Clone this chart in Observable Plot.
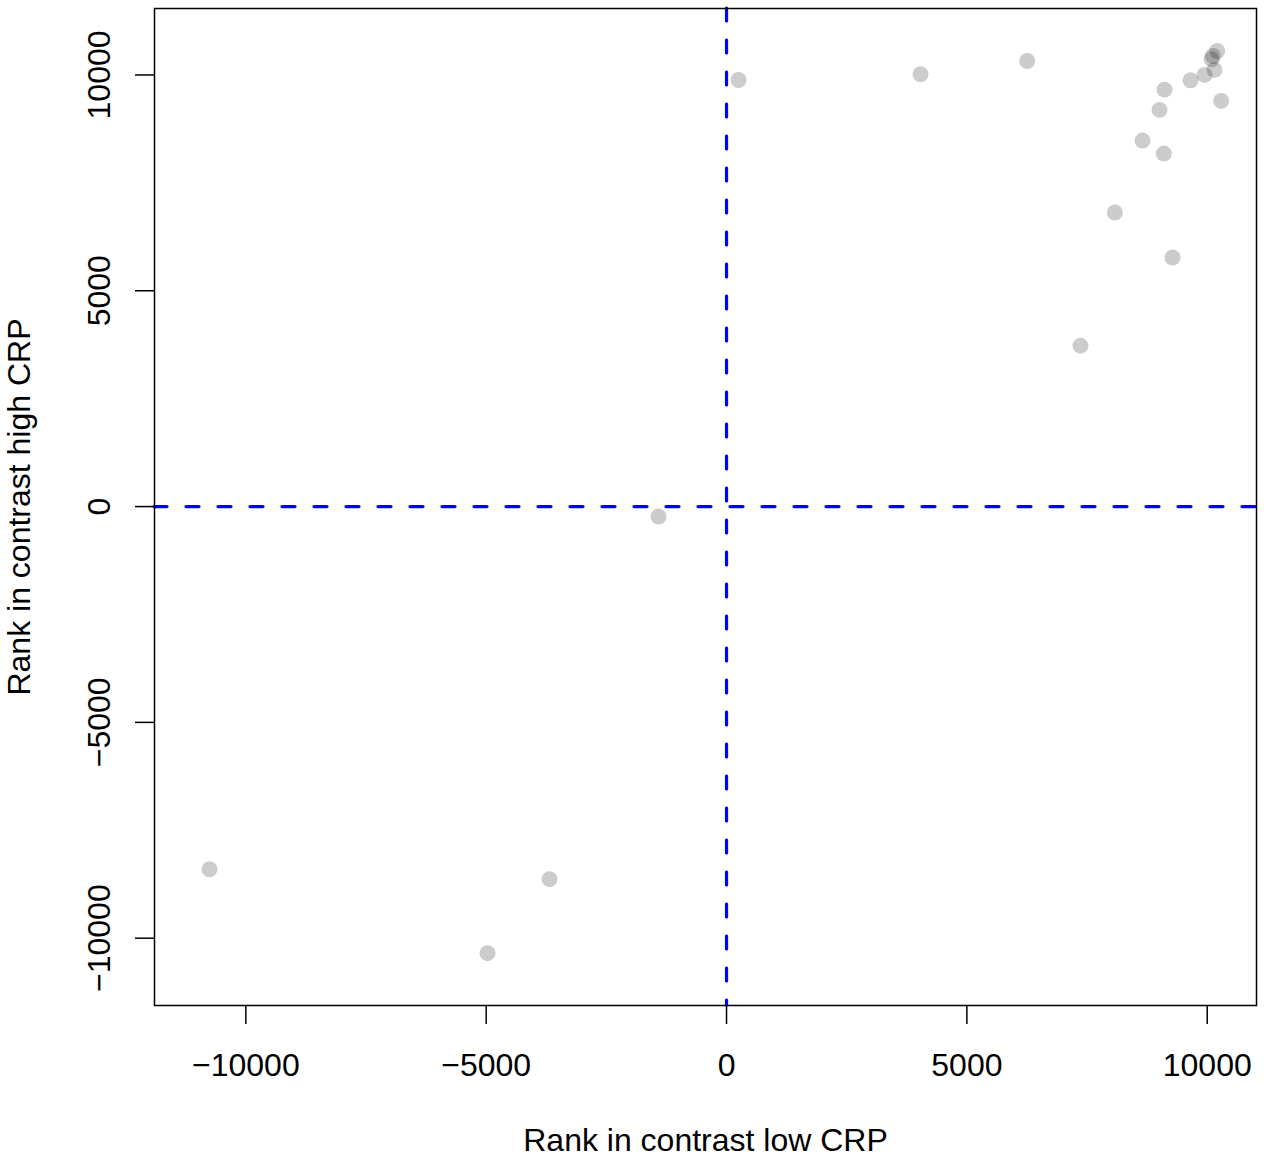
<!DOCTYPE html>
<html>
<head>
<meta charset="utf-8">
<script src="https://cdn.jsdelivr.net/npm/d3@7"></script>
<script src="https://cdn.jsdelivr.net/npm/@observablehq/plot@0.6"></script>
<style>
  html, body { margin: 0; padding: 0; background: #fff; }
  svg { display: block; }
</style>
</head>
<body>
<div id="chart"></div>
<script>
const lowCRP  = [10208, 10117, 10090, 10152, 9944, 9653, 9112, 10291, 9008, 8654, 9097, 8078, 9278, 7364, 6255, 4036, 250, -1415, -10755, -3682, -4972];
const highCRP = [10556, 10440, 10363, 10116, 10000, 9877, 9660, 9398, 9190, 8479, 8178, 6813, 5771, 3727, 10324, 10016, 9884, -231, -8403, -8634, -10347];
const xTicks = [-10000, -5000, 0, 5000, 10000];
const yTicks = [-10000, -5000, 0, 5000, 10000];

const points = lowCRP.map((x, i) => ({x, y: highCRP[i]}));
const fmt = d => String(d).replace("-", "\u2212");

const chart = Plot.plot({
  width: 1276,
  height: 1160,
  marginLeft: 154,
  marginRight: 20,
  marginTop: 8,
  marginBottom: 155,
  style: {fontFamily: "'Liberation Sans', Arial, Helvetica, sans-serif", fontSize: "32px", color: "black", background: "white"},
  x: {domain: [-11900, 11025]},
  y: {domain: [-11560, 11540]},
  marks: [
    Plot.ruleX([0], {stroke: "#0000ff", strokeWidth: 3.2, strokeDasharray: "13,19", strokeLinecap: "round"}),
    Plot.ruleY([0], {stroke: "#0000ff", strokeWidth: 3.2, strokeDasharray: "13,19", strokeLinecap: "round"}),
    Plot.dot(points, {x: "x", y: "y", r: 8, fill: "black", fillOpacity: 0.2, stroke: "none"}),
    Plot.frame({stroke: "black", strokeWidth: 1.5}),
    Plot.axisX({ticks: xTicks, tickSize: 19, tickPadding: 29, tickFormat: fmt, fontSize: 32,
      label: "Rank in contrast low CRP", labelAnchor: "center", labelOffset: 145, labelArrow: "none", strokeWidth: 1.5}),
    Plot.axisY({ticks: yTicks, tickSize: 19, tickPadding: 26, tickRotate: -90, tickFormat: fmt, fontSize: 32,
      label: "Rank in contrast high CRP", labelAnchor: "center", labelOffset: 147, labelArrow: "none", strokeWidth: 1.5})
  ]
});
document.getElementById("chart").appendChild(chart);
</script>
</body>
</html>
